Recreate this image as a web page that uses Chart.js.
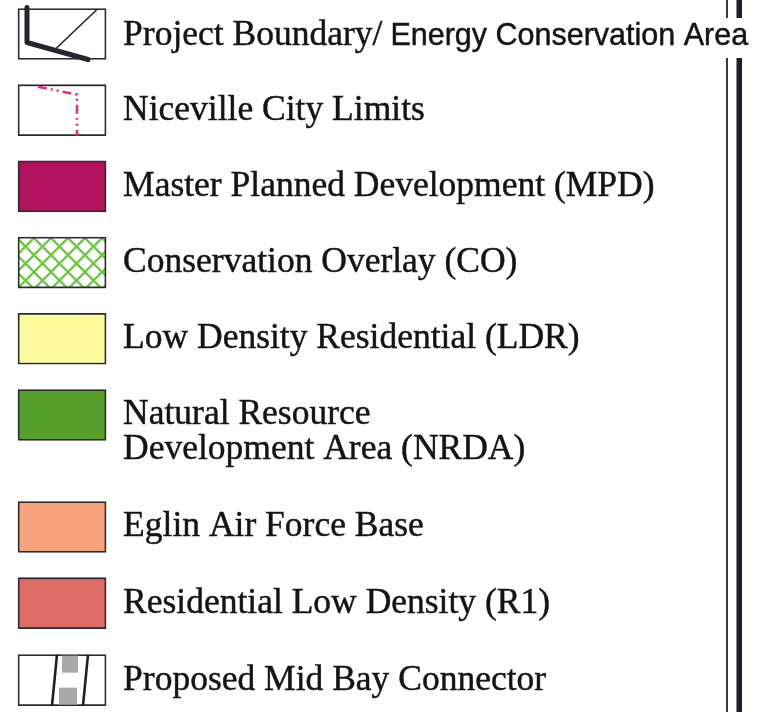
<!DOCTYPE html>
<html lang="en">
<head>
  <meta charset="UTF-8">
  <title>Land Use Legend</title>
  <script src="https://cdn.jsdelivr.net/npm/chart.js"></script>
  <style>
    body {
      margin: 0;
      background-color: #ffffff;
    }
    canvas {
      display: block;
    }
  </style>
</head>
<body>

  <canvas id="legendChart" width="758" height="712"></canvas>

  <script>
    // legend entries, top to bottom
    const labels = [
      'Project Boundary/ Energy Conservation Area',
      'Niceville City Limits',
      'Master Planned Development (MPD)',
      'Conservation Overlay (CO)',
      'Low Density Residential (LDR)',
      'Natural Resource\nDevelopment Area (NRDA)',
      'Eglin Air Force Base',
      'Residential Low Density (R1)',
      'Proposed Mid Bay Connector'
    ];
    // row slot of each entry (the two-line entry takes extra room)
    const rowSlots = [0, 1, 2, 3, 4, 5, 6.47, 7.47, 8.48];
    // every swatch spans one unit on the x scale
    const swatchSpan = [0, 1];
    const kinds = ['boundary', 'city', 'fill', 'hatch', 'fill', 'fill', 'fill', 'fill', 'connector'];
    const fills = ['#ffffff', '#ffffff', '#b2135e', null, '#fdfa9e', '#55a12b', '#f7a37d', '#dd6c66', '#ffffff'];

    function hatchPattern() {
      const c = document.createElement('canvas');
      c.width = 17; c.height = 17;
      const g = c.getContext('2d');
      g.fillStyle = '#ffffff';
      g.fillRect(0, 0, 17, 17);
      g.strokeStyle = '#74c54b';
      g.lineWidth = 2.4;
      g.beginPath();
      g.moveTo(-2, -2); g.lineTo(19, 19);
      g.moveTo(19, -2); g.lineTo(-2, 19);
      g.stroke();
      return g.createPattern(c, 'repeat');
    }

    function drawText(ctx, str, x, y) {
      ctx.fillText(str, x, y);
      ctx.strokeText(str, x, y);
    }

    const symbolPlugin = {
      id: 'symbols',
      beforeDraw(chart) {
        const ctx = chart.ctx;
        ctx.save();
        ctx.fillStyle = '#ffffff';
        ctx.fillRect(0, 0, chart.width, chart.height);
        // double rule at the right edge, broken where the first label runs through
        ctx.fillStyle = '#3a3a40';
        ctx.fillRect(726, 0, 2, 18);
        ctx.fillRect(726, 58, 2, chart.height - 58);
        ctx.fillStyle = '#1d1f2e';
        ctx.fillRect(736.5, 0, 5.5, 18);
        ctx.fillRect(736.5, 58, 5.5, chart.height - 58);
        ctx.restore();
      },
      afterDatasetsDraw(chart) {
        const ctx = chart.ctx;
        const meta = chart.getDatasetMeta(0);
        meta.data.forEach((bar, i) => {
          const left = bar.base;
          const right = bar.x;
          const top = bar.y - bar.height / 2;
          const h = bar.height;
          ctx.save();
          if (kinds[i] === 'boundary') {
            ctx.strokeStyle = '#25252f';
            ctx.lineCap = 'round';
            ctx.lineJoin = 'round';
            ctx.lineWidth = 5;
            ctx.beginPath();
            ctx.moveTo(left + 9, top - 1);
            ctx.lineTo(left + 9, top + 34);
            ctx.lineTo(left + 70, top + 51);
            ctx.stroke();
            ctx.lineWidth = 1.6;
            ctx.beginPath();
            ctx.moveTo(left + 37, top + 41);
            ctx.lineTo(left + 79, top + 1);
            ctx.stroke();
          } else if (kinds[i] === 'city') {
            ctx.strokeStyle = '#d8327f';
            ctx.lineWidth = 2.6;
            ctx.setLineDash([9, 4, 2, 4, 2, 4]);
            ctx.beginPath();
            ctx.moveTo(left + 20, top + 2);
            ctx.lineTo(left + 59, top + 10);
            ctx.lineTo(left + 59, top + h);
            ctx.stroke();
          } else if (kinds[i] === 'connector') {
            ctx.fillStyle = '#a9a9ab';
            ctx.fillRect(left + 44, top + 1, 16, 17);
            ctx.fillRect(left + 41, top + 33, 18, 17);
            ctx.strokeStyle = '#202028';
            ctx.lineWidth = 2.6;
            ctx.beginPath();
            ctx.moveTo(left + 39, top);
            ctx.lineTo(left + 34, top + h);
            ctx.moveTo(left + 70, top);
            ctx.lineTo(left + 65, top + h);
            ctx.stroke();
          }
          ctx.restore();

          // label text
          ctx.save();
          ctx.fillStyle = '#141418';
          ctx.strokeStyle = '#141418';
          ctx.lineWidth = 0.45;
          ctx.textBaseline = 'alphabetic';
          ctx.textAlign = 'left';
          const serif = '35.5px "Liberation Serif", "Times New Roman", serif';
          const x = right + 17;
          const base = bar.y + 9.5;
          const text = labels[i];
          if (text.includes('/')) {
            const parts = text.split('/');
            ctx.font = serif;
            drawText(ctx, parts[0] + '/', x, base + 1.5);
            const w = ctx.measureText(parts[0] + '/').width;
            ctx.font = '30.5px "Liberation Sans", Arial, sans-serif';
            drawText(ctx, parts[1].trim(), x + w + 8, base + 1.5);
          } else {
            ctx.font = serif;
            text.split('\n').forEach((line, k) => {
              drawText(ctx, line, x, base + k * 35);
            });
          }
          ctx.restore();
        });
      }
    };

    const ctx = document.getElementById('legendChart').getContext('2d');
    const hatch = hatchPattern();

    new Chart(ctx, {
      type: 'bar',
      data: {
        labels: labels,
        datasets: [{
          data: rowSlots.map(r => ({ x: swatchSpan, y: r })),
          backgroundColor: fills.map(f => f === null ? hatch : f),
          borderColor: '#2a2a30',
          borderWidth: 1.8,
          borderSkipped: false,
          barThickness: 51,
          clip: false
        }]
      },
      options: {
        indexAxis: 'y',
        responsive: false,
        animation: false,
        layout: {
          padding: { left: 18, right: 0, top: 0, bottom: 0 }
        },
        plugins: {
          legend: { display: false },
          tooltip: { enabled: false }
        },
        scales: {
          x: {
            type: 'linear',
            display: false,
            offset: false,
            min: 0,
            max: 8.4
          },
          y: {
            type: 'linear',
            display: false,
            offset: false,
            reverse: true,
            min: -0.446,
            max: 8.898
          }
        }
      },
      plugins: [symbolPlugin]
    });
  </script>

</body>
</html>
